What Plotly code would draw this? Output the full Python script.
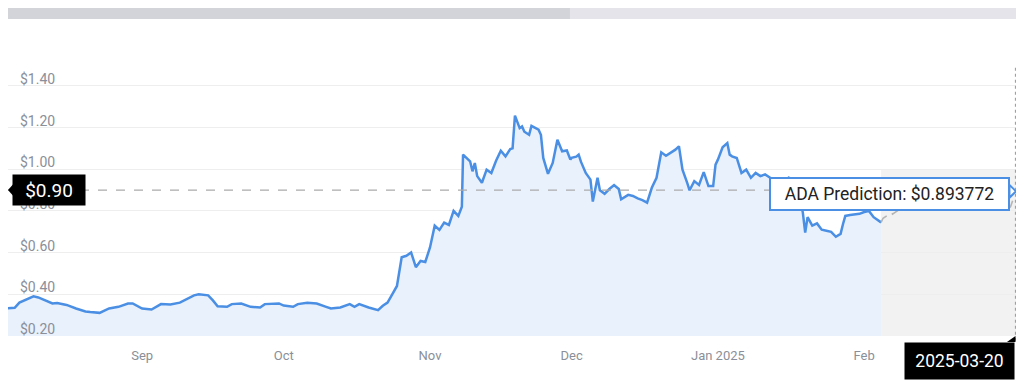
import plotly.graph_objects as go

# ---------------- data ----------------
hist_dates = [
    "2024-08-03", "2024-08-05", "2024-08-06", "2024-08-08", "2024-08-09", "2024-08-10",
    "2024-08-12", "2024-08-13", "2024-08-14", "2024-08-16", "2024-08-18", "2024-08-20",
    "2024-08-21", "2024-08-23", "2024-08-25", "2024-08-27", "2024-08-29", "2024-08-30",
    "2024-09-01", "2024-09-03", "2024-09-05", "2024-09-07", "2024-09-09", "2024-09-10",
    "2024-09-12", "2024-09-13", "2024-09-15", "2024-09-16", "2024-09-17", "2024-09-19",
    "2024-09-20", "2024-09-22", "2024-09-24", "2024-09-26", "2024-09-27", "2024-09-30",
    "2024-10-01", "2024-10-03", "2024-10-04", "2024-10-06", "2024-10-08", "2024-10-10",
    "2024-10-11", "2024-10-13", "2024-10-15", "2024-10-16", "2024-10-17", "2024-10-19",
    "2024-10-21", "2024-10-22", "2024-10-23", "2024-10-24", "2024-10-25", "2024-10-26",
    "2024-10-27", "2024-10-28", "2024-10-29", "2024-10-30", "2024-10-31", "2024-11-01",
    "2024-11-02", "2024-11-03", "2024-11-04", "2024-11-05", "2024-11-06", "2024-11-07",
    "2024-11-07 18:00", "2024-11-08", "2024-11-09 12:00", "2024-11-10", "2024-11-10 12:00",
    "2024-11-11", "2024-11-12", "2024-11-13", "2024-11-14", "2024-11-15", "2024-11-16",
    "2024-11-17", "2024-11-18", "2024-11-18 12:00", "2024-11-19", "2024-11-20",
    "2024-11-20 12:00", "2024-11-21", "2024-11-22", "2024-11-22 12:00", "2024-11-24",
    "2024-11-24 12:00", "2024-11-25", "2024-11-26", "2024-11-27", "2024-11-28",
    "2024-11-29", "2024-11-30", "2024-11-30 18:00", "2024-12-01", "2024-12-02",
    "2024-12-02 12:00", "2024-12-03", "2024-12-04", "2024-12-05", "2024-12-05 12:00",
    "2024-12-06 12:00", "2024-12-07", "2024-12-08", "2024-12-09", "2024-12-10",
    "2024-12-11", "2024-12-11 12:00", "2024-12-13", "2024-12-14", "2024-12-15",
    "2024-12-16", "2024-12-17", "2024-12-18", "2024-12-19", "2024-12-20", "2024-12-21",
    "2024-12-22", "2024-12-23", "2024-12-23 18:00", "2024-12-24 12:00", "2024-12-25 12:00",
    "2024-12-26", "2024-12-27", "2024-12-28", "2024-12-29", "2024-12-30", "2024-12-31",
    "2024-12-31 12:00", "2025-01-01", "2025-01-02", "2025-01-03", "2025-01-03 12:00",
    "2025-01-04", "2025-01-05", "2025-01-06", "2025-01-07", "2025-01-08", "2025-01-09",
    "2025-01-10", "2025-01-11", "2025-01-12", "2025-01-14", "2025-01-16", "2025-01-18",
    "2025-01-19", "2025-01-19 12:00", "2025-01-20", "2025-01-21", "2025-01-22",
    "2025-01-23", "2025-01-24", "2025-01-25", "2025-01-26", "2025-01-27",
    "2025-01-27 12:00", "2025-01-28", "2025-01-29", "2025-01-31", "2025-02-01",
    "2025-02-02", "2025-02-03", "2025-02-04 14:00",
]
hist_values = [
    0.332, 0.335, 0.360, 0.380, 0.390, 0.385,
    0.365, 0.356, 0.358, 0.349, 0.332, 0.318,
    0.315, 0.311, 0.332, 0.340, 0.356, 0.356,
    0.332, 0.327, 0.353, 0.351, 0.360, 0.371,
    0.395, 0.400, 0.395, 0.371, 0.343, 0.340,
    0.353, 0.356, 0.340, 0.337, 0.353, 0.356,
    0.346, 0.340, 0.353, 0.360, 0.356, 0.340,
    0.332, 0.337, 0.353, 0.340, 0.353, 0.337,
    0.324, 0.345, 0.360, 0.400, 0.440, 0.578,
    0.585, 0.601, 0.530, 0.560, 0.555, 0.625,
    0.729, 0.709, 0.744, 0.733, 0.800, 0.776,
    0.820, 1.070, 1.038, 0.990, 1.030,
    0.967, 0.935, 0.998, 0.982, 1.041, 1.089,
    1.062, 1.097, 1.100, 1.257, 1.197,
    1.205, 1.180, 1.165, 1.208, 1.190,
    1.165, 1.054, 0.978, 1.030, 1.141,
    1.086, 1.090, 1.046, 1.055, 1.060,
    1.070, 1.035, 0.982, 0.950, 0.845,
    0.959, 0.899, 0.882, 0.905, 0.924,
    0.905, 0.856, 0.877, 0.872, 0.860,
    0.852, 0.840, 0.911, 0.959, 1.081, 1.065,
    1.078, 1.094, 1.110, 0.998, 0.935,
    0.899, 0.943, 0.925, 0.986, 0.919, 0.919,
    1.022, 1.046, 1.105, 1.125, 1.070,
    1.062, 1.054, 0.982, 0.998, 0.959, 0.982,
    0.967, 0.975, 0.960, 0.930, 0.960, 0.900,
    0.792, 0.696, 0.770, 0.729, 0.740,
    0.710, 0.705, 0.700, 0.676, 0.690,
    0.736, 0.776, 0.780, 0.786, 0.795,
    0.800, 0.770, 0.745,
]

forecast_dates = [
    "2025-02-04 14:00", "2025-02-05", "2025-02-06", "2025-02-06 12:00", "2025-02-07",
    "2025-02-08", "2025-02-10", "2025-02-13", "2025-02-16", "2025-02-19", "2025-02-22",
    "2025-02-25", "2025-02-28", "2025-03-02", "2025-03-03", "2025-03-04", "2025-03-05 04:00",
]
forecast_values = [
    0.745, 0.765, 0.780, 0.800, 0.785,
    0.800, 0.830, 0.850, 0.830, 0.860, 0.840,
    0.850, 0.820, 0.810, 0.800, 0.820, 0.894,
]

current_price = 0.90
prediction_value = 0.893772
prediction_date = "2025-03-20"

y_ticks = [0.20, 0.40, 0.60, 0.80, 1.00, 1.20, 1.40]
x_ticks = ["2024-09-01", "2024-10-01", "2024-11-01", "2024-12-01", "2025-01-01", "2025-02-01"]
x_tick_labels = ["Sep", "Oct", "Nov", "Dec", "Jan 2025", "Feb"]

x_start = "2024-08-03 14:00"
x_end = "2025-03-05 04:00"
forecast_start = "2025-02-04 14:00"

# ---------------- figure ----------------
LINE = "#4a8fe3"
FILL = "#e9f1fc"
GRAY_TXT = "#8a8f99"
Y_RANGE = [0.2, 1.50]
PLOT_H = 274          # plot-area height in px (margins below)
LBL_OFF = 3 / PLOT_H  # y labels sit 3px lower than gridlines

fig = go.Figure()

fig.add_trace(go.Scatter(
    x=hist_dates, y=hist_values, mode="lines",
    line=dict(color=LINE, width=2.5),
    fill="tozeroy", fillcolor=FILL,
    hoverinfo="skip", showlegend=False,
))
fig.add_trace(go.Scatter(
    x=forecast_dates, y=forecast_values, mode="lines",
    line=dict(color="#b5b5b5", width=1.6, dash="dash"),
    hoverinfo="skip", showlegend=False,
))
# invisible trace that carries the label axis
fig.add_trace(go.Scatter(
    x=[x_start], y=[y_ticks[0]], yaxis="y2", mode="markers",
    marker=dict(opacity=0), hoverinfo="skip", showlegend=False,
))

shapes = []
shapes.append(dict(type="rect", xref="x", yref="y", x0=forecast_start, x1=x_end,
                   y0=0.2, y1=1.0, fillcolor="#f2f2f2", line=dict(width=0), layer="below"))
shapes.append(dict(type="line", xref="paper", yref="y", x0=0, x1=1,
                   y0=current_price, y1=current_price,
                   line=dict(color="#ababab", width=1.2, dash="dash")))
shapes.append(dict(type="line", xref="paper", yref="paper", x0=0.9995, x1=0.9995,
                   y0=-0.006, y1=1.0,
                   line=dict(color="#a0a0a0", width=1.2, dash="dot")))
shapes.append(dict(type="rect", xref="paper", yref="paper", x0=-0.01, x1=0.5575,
                   y0=1.168, y1=1.208, fillcolor="#d3d4da", line=dict(width=0)))
shapes.append(dict(type="rect", xref="paper", yref="paper", x0=0.5575, x1=1.003,
                   y0=1.168, y1=1.208, fillcolor="#e4e4ea", line=dict(width=0)))
shapes.append(dict(type="path", xref="paper", yref="y",
                   path="M 0.0 0.90 L 0.0055 0.93 L 0.0055 0.87 Z",
                   fillcolor="black", line=dict(width=0)))
shapes.append(dict(type="path", xref="paper", yref="y",
                   path="M 0.9935 0.925 L 1.0 0.894 L 0.9935 0.863 Z",
                   fillcolor="white", line=dict(color=LINE, width=2)))
shapes.append(dict(type="path", xref="paper", yref="paper",
                   path="M 0.991 -0.011 L 0.9995 0.011 L 0.9995 -0.011 Z",
                   fillcolor="black", line=dict(width=0)))

annotations = [
    dict(text="$" + f"{current_price:.2f}", xref="paper", yref="y", x=0.004, y=current_price,
         xanchor="left", yanchor="middle", showarrow=False,
         font=dict(family="Roboto", size=19, color="white"),
         bgcolor="black", width=64, height=22, borderpad=4, align="center"),
    dict(text="ADA Prediction: $" + f"{prediction_value:.6f}", xref="paper", yref="y",
         x=0.994, y=prediction_value - 0.012, xanchor="right", yanchor="middle",
         showarrow=False, font=dict(family="Roboto", size=17.5, color="#222222"),
         bgcolor="white", bordercolor=LINE, borderwidth=2, borderpad=3,
         width=231, height=24, align="center"),
    dict(text=prediction_date, xref="paper", yref="paper", x=0.9995, y=-0.011,
         xanchor="right", yanchor="top", showarrow=False,
         font=dict(family="Roboto", size=17.5, color="white"),
         bgcolor="black", width=101, height=28, borderpad=4, align="center"),
]

# The page body adds an 8px offset; the layout compensates for it.
fig.update_layout(
    width=1016, height=373,
    margin=dict(l=0, r=8, t=57, b=42),
    paper_bgcolor="white", plot_bgcolor="rgba(0,0,0,0)",
    font=dict(family="Roboto", size=13, color=GRAY_TXT),
    showlegend=False,
    shapes=shapes,
    annotations=annotations,
    hovermode=False,
    xaxis=dict(
        type="date", range=[x_start, x_end],
        tickvals=x_ticks, ticktext=x_tick_labels,
        showgrid=False, zeroline=False, showline=False, ticks="",
        ticklabelstandoff=10,
        tickfont=dict(family="Roboto", size=13, color=GRAY_TXT),
    ),
    yaxis=dict(
        domain=[LBL_OFF, 1], range=Y_RANGE, tickvals=y_ticks, showticklabels=False,
        showgrid=True, gridcolor="#eeeeee", gridwidth=1,
        zeroline=False, showline=False, ticks="",
    ),
    yaxis2=dict(
        domain=[0, 1 - LBL_OFF], anchor="free", position=0, side="left",
        range=Y_RANGE,
        tickvals=y_ticks, ticktext=["$" + f"{v:.2f}" for v in y_ticks],
        ticklabelposition="inside top", ticklabelstandoff=8,
        showgrid=False, zeroline=False, showline=False, ticks="",
        tickfont=dict(family="Roboto", size=14, color=GRAY_TXT),
    ),
)

fig.write_html("out.html")
